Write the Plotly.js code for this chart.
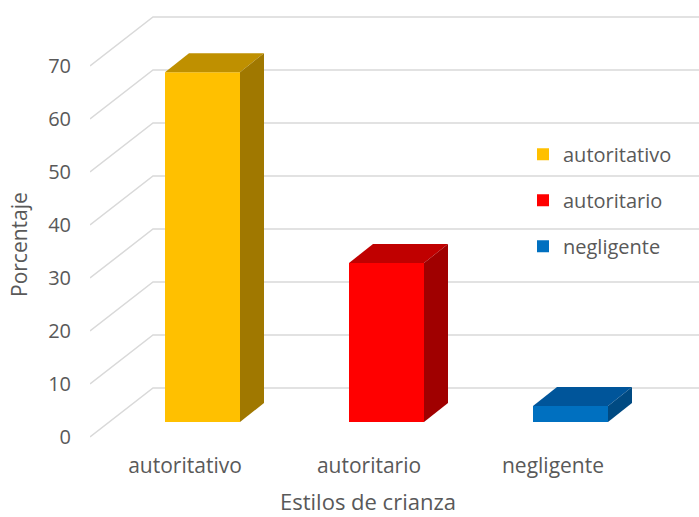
<!DOCTYPE html>
<html><head><meta charset="utf-8">
<script src="https://cdn.plot.ly/plotly-3.0.1.min.js"></script>
<style>html,body{margin:0;padding:0;background:#fff}#chart{width:699px;height:517px}</style>
</head><body><div id="chart"></div>
<script>
const categories = ['autoritativo', 'autoritario', 'negligente'];
const values = [66, 30, 3];
const colorsFront = ['#FFC000', '#FF0000', '#0070C0'];
const colorsTop = ['#BF9000', '#C00000', '#00559A'];
const colorsSide = ['#A07800', '#A00000', '#004A82'];
const yTicks = [0, 10, 20, 30, 40, 50, 60, 70];
const yTitle = 'Porcentaje';
const xTitle = 'Estilos de crianza';

// projection geometry (pixel sizes converted to axis units)
const W = 699, H = 517;
const ml = 90, mr = 0, mt = 5, mb = 72;
const pxPerX = 184, pxPerY = 5.3;
const x0px = 185, y0px = 437;
const xmin = (ml - x0px) / pxPerX, xmax = (W - mr - x0px) / pxPerX;
const ymin = (y0px - (H - mb)) / pxPerY, ymax = (y0px - mt) / pxPerY;
const wallDx = 63 / pxPerX, wallDy = 49 / pxPerY;
const barOff = 17.5 / pxPerX, barW = 75 / pxPerX;
const barBase = 15 / pxPerY;
const depDx = 24 / pxPerX, depDy = 19 / pxPerY;
const plotW = W - ml - mr, plotH = H - mt - mb;

const traces = [];
categories.forEach((c, i) => {
  traces.push({
    type: 'bar', x: [i + barOff], y: [values[i]], base: [barBase], width: [barW],
    name: c, legendgroup: c, marker: {color: colorsFront[i], line: {width: 0}},
    hoverinfo: 'skip'
  });
});
categories.forEach((c, i) => {
  const xl = i + barOff - barW / 2, xr = i + barOff + barW / 2;
  const yt = barBase + values[i];
  traces.push({
    type: 'scatter', mode: 'lines', fill: 'toself', showlegend: false, hoverinfo: 'skip',
    x: [xl, xr, xr + depDx, xl + depDx, xl], y: [yt, yt, yt + depDy, yt + depDy, yt],
    fillcolor: colorsTop[i], line: {width: 0, color: colorsTop[i]}
  });
  traces.push({
    type: 'scatter', mode: 'lines', fill: 'toself', showlegend: false, hoverinfo: 'skip',
    x: [xr, xr + depDx, xr + depDx, xr, xr], y: [barBase, barBase + depDy, yt + depDy, yt, barBase],
    fillcolor: colorsSide[i], line: {width: 0, color: colorsSide[i]}
  });
});

const shapes = yTicks.map(t => ({
  type: 'path', layer: 'below', xref: 'x', yref: 'y',
  path: `M${xmin},${t} L${xmin + wallDx},${t + wallDy} L${xmax},${t + wallDy}`,
  line: {color: '#D9D9D9', width: 1.5}
}));

const font = '"Open Sans", Lato, sans-serif';
const layout = {
  width: W, height: H, margin: {l: ml, r: mr, t: mt, b: mb},
  paper_bgcolor: '#fff', plot_bgcolor: 'rgba(0,0,0,0)',
  font: {family: font, color: '#595959', size: 20},
  showlegend: true, barmode: 'overlay',
  xaxis: {range: [xmin, xmax], tickvals: [0, 1, 2], ticktext: categories, showgrid: false,
    zeroline: false, showline: false, ticks: '', ticklabelstandoff: 6, fixedrange: true,
    tickfont: {size: 21, color: '#595959'}},
  yaxis: {range: [ymin, ymax], tickvals: yTicks, showgrid: false, zeroline: false, showline: false,
    ticks: '', ticklabelstandoff: 18, fixedrange: true, tickfont: {size: 20, color: '#595959'}},
  annotations: [
    {text: yTitle, textangle: -90, xref: 'paper', yref: 'paper',
     x: (19 - ml) / plotW, y: (H - mb - 245) / plotH, xanchor: 'center', yanchor: 'middle',
     showarrow: false, font: {size: 21, color: '#595959'}},
    {text: xTitle, xref: 'paper', yref: 'paper',
     x: (368 - ml) / plotW, y: (H - mb - 501) / plotH, xanchor: 'center', yanchor: 'middle',
     showarrow: false, borderpad: 0, font: {size: 22, color: '#595959'}}
  ],
  legend: {x: (523 - ml) / plotW, y: 0.705, xanchor: 'left', yanchor: 'top',
    traceorder: 'grouped', tracegroupgap: 17, font: {size: 20, color: '#595959'},
    bgcolor: 'rgba(0,0,0,0)'},
  shapes: shapes
};
Plotly.newPlot('chart', traces, layout, {displayModeBar: false, staticPlot: true});
</script></body></html>
